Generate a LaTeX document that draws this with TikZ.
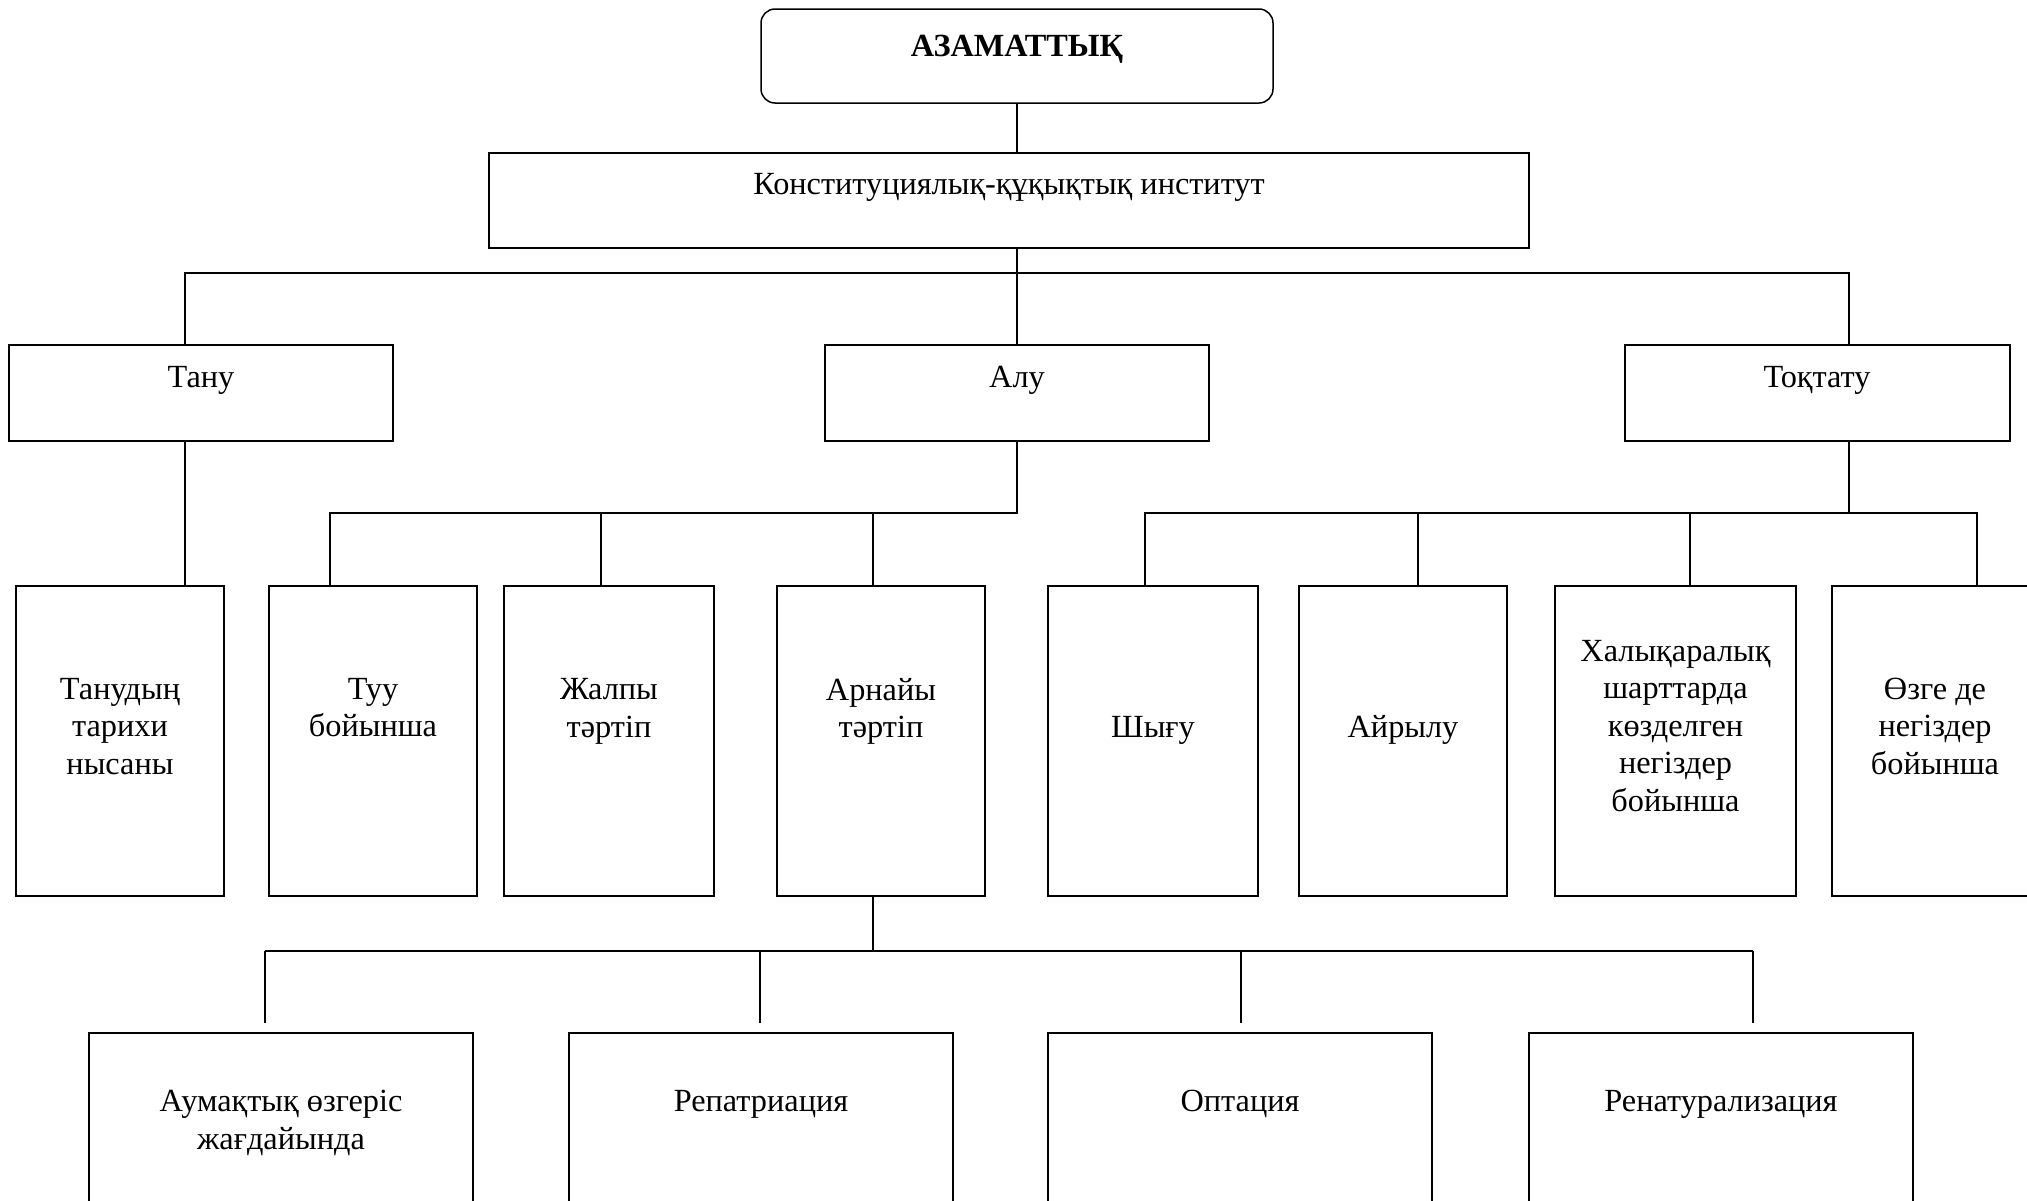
\documentclass[tikz,border=0pt]{standalone}
\usepackage{fontspec}
\setmainfont{Liberation Serif}
\begin{document}
\begin{tikzpicture}[x=1pt,y=-1pt,
  box/.style={draw, line width=1.5pt, rectangle, inner sep=0pt},
  txt/.style={font=\fontsize{32.3}{37.5}\selectfont, align=center, inner sep=0pt},
  ln/.style={line width=1.5pt}]
\fill[white] (0,0) rectangle (2027,1200);
\useasboundingbox (0,0) rectangle (2027,1200);
% boxes
\node[box, rounded corners=14pt, minimum width=512pt, minimum height=94pt] (top) at (1017,56) {};
\node[box, minimum width=1040pt, minimum height=95pt] (konst) at (1009,200.5) {};
\node[box, minimum width=384pt, minimum height=96pt] (tanu) at (201,393) {};
\node[box, minimum width=384pt, minimum height=96pt] (alu) at (1017,393) {};
\node[box, minimum width=385pt, minimum height=96pt] (toq) at (1817.5,393) {};
\node[box, minimum width=208pt, minimum height=310pt] (tanud) at (120,741) {};
\node[box, minimum width=208pt, minimum height=310pt] (tuu) at (373,741) {};
\node[box, minimum width=210pt, minimum height=310pt] (zhal) at (609,741) {};
\node[box, minimum width=208pt, minimum height=310pt] (arn) at (881,741) {};
\node[box, minimum width=210pt, minimum height=310pt] (shy) at (1153,741) {};
\node[box, minimum width=208pt, minimum height=310pt] (ayr) at (1403,741) {};
\node[box, minimum width=241pt, minimum height=310pt] (hal) at (1675.5,741) {};
\node[box, minimum width=206pt, minimum height=310pt] (ozge) at (1935,741) {};
\node[box, minimum width=384pt, minimum height=200pt] (aum) at (281,1133) {};
\node[box, minimum width=384pt, minimum height=200pt] (rep) at (761,1133) {};
\node[box, minimum width=384pt, minimum height=200pt] (opt) at (1240,1133) {};
\node[box, minimum width=384pt, minimum height=200pt] (ren) at (1721,1133) {};
% texts
\node[txt, font=\fontsize{32.3}{37.5}\selectfont\bfseries] (ttop) at (1017,49) {АЗАМАТТЫҚ};
\node[txt] (tkonst) at (1009,187) {Конституциялық-құқықтық институт};
\node[txt] (ttanu) at (201,380) {Тану};
\node[txt] (talu) at (1017,380) {Алу};
\node[txt] (ttoq) at (1817,380) {Тоқтату};
\node[txt] (ttanud) at (120,726.5) {Танудың\\тарихи\\нысаны};
\node[txt] (ttuu) at (373,707.5) {Туу\\бойынша};
\node[txt] (tzhal) at (609,711.5) {Жалпы\\тәртіп};
\node[txt] (tarn) at (881,711.5) {Арнайы\\тәртіп};
\node[txt] (tshy) at (1153,730) {Шығу};
\node[txt] (tayr) at (1403,730) {Айрылу};
\node[txt] (thal) at (1675.5,726) {Халықаралық\\шарттарда\\көзделген\\негіздер\\бойынша};
\node[txt] (tozge) at (1935,726) {Өзге де\\негіздер\\бойынша};
\node[txt] (taum) at (281,1123) {Аумақтық өзгеріс\\жағдайында};
\node[txt] (trep) at (761,1104) {Репатриация};
\node[txt] (topt) at (1240,1104) {Оптация};
\node[txt] (tren) at (1721,1104) {Ренатурализация};
% junction coordinates
\coordinate (b1) at (1017,273);
\coordinate (c1) at (185,273);
\coordinate (c3) at (1849,273);
\coordinate (b2) at (1017,513);
\coordinate (d1) at (330,513);
\coordinate (d2) at (601,513);
\coordinate (d3) at (873,513);
\coordinate (b3) at (1849,513);
\coordinate (f1) at (1145,513);
\coordinate (f2) at (1418,513);
\coordinate (f3) at (1690,513);
\coordinate (f4) at (1977,513);
\coordinate (b4) at (873,951);
\coordinate (e1) at (265,951);
\coordinate (e2) at (760,951);
\coordinate (e3) at (1241,951);
\coordinate (e4) at (1753,951);
% connectors
\draw[ln] (top.south) -- (top.south |- konst.north);
\draw[ln] (b1 |- konst.south) -- (b1);
\draw[ln] (c1 |- tanu.north) -- (c1) -- (c3) -- (c3 |- toq.north);
\draw[ln] (b1) -- (alu.north);
\draw[ln] (c1 |- tanu.south) -- (c1 |- tanud.north);
\draw[ln] (alu.south) -- (b2) -- (d1) -- (d1 |- tuu.north);
\draw[ln] (d2) -- (d2 |- zhal.north);
\draw[ln] (d3) -- (d3 |- arn.north);
\draw[ln] (b3 |- toq.south) -- (b3);
\draw[ln] (f1 |- shy.north) -- (f1) -- (f4) -- (f4 |- ozge.north);
\draw[ln] (f2) -- (f2 |- ayr.north);
\draw[ln] (f3) -- (f3 |- hal.north);
\draw[ln] (b4 |- arn.south) -- (b4);
\draw[ln] (e1) -- (e4);
\draw[ln, shorten >=9pt] (e1) -- (e1 |- aum.north);
\draw[ln, shorten >=9pt] (e2) -- (e2 |- rep.north);
\draw[ln, shorten >=9pt] (e3) -- (e3 |- opt.north);
\draw[ln, shorten >=9pt] (e4) -- (e4 |- ren.north);
\end{tikzpicture}
\end{document}
